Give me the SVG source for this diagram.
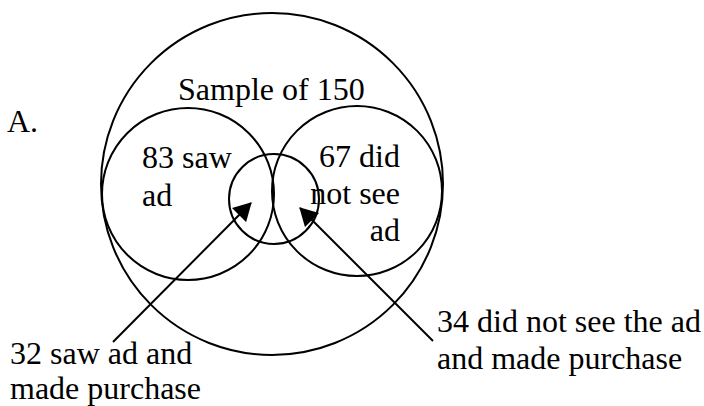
<svg xmlns="http://www.w3.org/2000/svg" width="704" height="406" viewBox="0 0 704 406">
  <style>
    .ring { fill: none; stroke: #000; stroke-width: 2; }
    .lbl { font-size: 32px; fill: #000; }
    .ptr { stroke: #000; stroke-width: 2; fill: none; marker-end: url(#head); }
  </style>
  <defs>
    <marker id="head" viewBox="0 0 18 20" refX="17" refY="10" markerWidth="18" markerHeight="20" markerUnits="userSpaceOnUse" orient="auto">
      <path d="M0,0 L18,10 L0,20 z" fill="#000"/>
    </marker>
  </defs>
  <rect width="704" height="406" fill="#fff"/>

  <g font-family="Liberation Serif, Times New Roman, Tinos, Nimbus Roman, Noto Serif, DejaVu Serif, serif">
    <text class="lbl" x="7" y="132">A.</text>

    <g id="sample">
      <circle class="ring" cx="272" cy="184" r="171"/>
      <text class="lbl" x="178" y="100">Sample of 150</text>
    </g>
    <g id="saw-ad">
      <circle class="ring" cx="188" cy="194" r="86"/>
      <text class="lbl" x="142" y="168">83 saw</text>
      <text class="lbl" x="142" y="206">ad</text>
    </g>
    <g id="not-see-ad">
      <circle class="ring" cx="357" cy="191" r="85"/>
      <text class="lbl" text-anchor="end" x="400" y="167">67 did</text>
      <text class="lbl" text-anchor="end" x="400" y="204">not see</text>
      <text class="lbl" text-anchor="end" x="400" y="241">ad</text>
    </g>
    <g id="purchase">
      <circle class="ring" cx="274" cy="199" r="45"/>
    </g>

    <g id="connectors">
      <line class="ptr" x1="113" y1="342" x2="251" y2="203"/>
      <line class="ptr" x1="433" y1="341" x2="300" y2="208"/>
    </g>

    <g id="saw-purchase-label">
      <text class="lbl" x="10" y="364">32 saw ad and</text>
      <text class="lbl" x="10" y="399">made purchase</text>
    </g>
    <g id="not-see-purchase-label">
      <text class="lbl" x="437" y="332">34 did not see the ad</text>
      <text class="lbl" x="437" y="369">and made purchase</text>
    </g>
  </g>
</svg>
